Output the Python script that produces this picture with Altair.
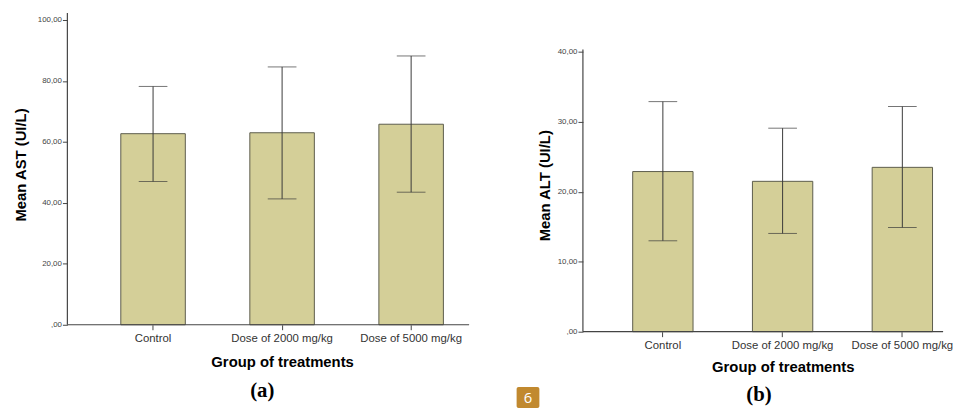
import altair as alt
import pandas as pd

groups = ["Control", "Dose of 2000 mg/kg", "Dose of 5000 mg/kg"]

ast_mean = [62.7, 63.0, 65.8]
ast_low = [47.0, 41.3, 43.5]
ast_high = [78.2, 84.6, 88.2]
ast_ticks = [0, 20, 40, 60, 80, 100]

alt_mean = [22.9, 21.5, 23.5]
alt_low = [13.0, 14.05, 14.9]
alt_high = [32.9, 29.1, 32.2]
alt_ticks = [0, 10, 20, 30, 40]

FONT = "Liberation Sans"
BAR = "#d4cf98"
LINE = "#444444"

LABEL_EXPR = "datum.value == 0 ? ',00' : replace(format(datum.value, '.2f'), '.', ',')"


def panel(mean, low, high, ticks, ytitle, ydom, width, height, xrange, pinner,
          ytitle_x, ytitle_y, xtitle_x, xtitle_y, yline_top, letter, letter_x, letter_y):
    df = pd.DataFrame({"group": groups, "mean": mean, "low": low, "high": high})
    one = pd.DataFrame({"k": [0]})
    x = alt.X("group:N", sort=groups,
              scale=alt.Scale(range=xrange, paddingInner=pinner, paddingOuter=0),
              axis=alt.Axis(title="Group of treatments", labelAngle=0, domain=False,
                            tickSize=5, tickColor=LINE, labelFont=FONT, labelFontSize=11.5,
                            labelColor="#333333", labelPadding=3,
                            titleFont=FONT, titleFontSize=15, titleFontWeight="bold",
                            titleColor="#000000", titleX=xtitle_x, titleY=xtitle_y,
                            titleBaseline="middle", titleAlign="center"))
    y = alt.Y("mean:Q",
              scale=alt.Scale(domain=[0, ydom], nice=False, zero=True),
              axis=alt.Axis(title=ytitle, values=ticks, labelExpr=LABEL_EXPR, domain=False,
                            grid=False, tickSize=5, tickColor=LINE, labelFont=FONT,
                            labelFontSize=8, labelColor="#444444", labelPadding=1,
                            titleFont=FONT, titleFontSize=15, titleFontWeight="bold",
                            titleColor="#000000", titleX=ytitle_x, titleY=ytitle_y,
                            titleAngle=-90, titleBaseline="middle", titleAlign="center"))
    base = alt.Chart(df)
    bars = base.mark_bar(color=BAR, stroke="#5c5c4c", strokeWidth=1).encode(x=x, y=y)
    err = base.mark_rule(color="#3a3a3a", strokeWidth=1).encode(
        x=alt.X("group:N", sort=groups), y=alt.Y("low:Q"), y2="high:Q")
    cap_lo = base.mark_tick(orient="horizontal", size=29, thickness=1, color="#3a3a3a").encode(
        x=alt.X("group:N", sort=groups), y=alt.Y("low:Q"))
    cap_hi = base.mark_tick(orient="horizontal", size=29, thickness=1, color="#3a3a3a").encode(
        x=alt.X("group:N", sort=groups), y=alt.Y("high:Q"))
    xline = alt.Chart(one).mark_rule(color=LINE, strokeWidth=1.2).encode(
        x=alt.value(0), x2=alt.value(width), y=alt.value(height))
    yline = alt.Chart(one).mark_rule(color=LINE, strokeWidth=1.2).encode(
        x=alt.value(0), y=alt.value(yline_top), y2=alt.value(height))
    lab = alt.Chart(one).mark_text(font="Liberation Serif", fontWeight="bold", fontSize=21,
                                   color="#000000", baseline="middle", align="center").encode(
        x=alt.value(letter_x), y=alt.value(letter_y), text=alt.value(letter))
    layers = [bars, err, cap_lo, cap_hi, xline, yline, lab]
    return alt.layer(*layers).properties(width=width, height=height)


a = panel(ast_mean, ast_low, ast_high, ast_ticks, "Mean AST (UI/L)", 102.27,
          406, 315, [54, 380], 0.5,
          -47.5, 153, 217, 37, 0, "(a)", 197, 382)

one = pd.DataFrame({"k": [0]})
b_core = panel(alt_mean, alt_low, alt_high, alt_ticks, "Mean ALT (UI/L)", 45.56,
               364, 322, [50.3, 353.3], 0.496,
               -39, 174, 202, 35.7, 36.7, "(b)", 178, 386)
box = alt.Chart(one).mark_rect(color="#c1892f", cornerRadius=2).encode(
    x=alt.value(-67), x2=alt.value(-44), y=alt.value(378), y2=alt.value(399))
six = alt.Chart(one).mark_text(font="Open Sans", fontSize=15, color="#ffffff",
                               baseline="middle", align="center").encode(
    x=alt.value(-55.5), y=alt.value(389), text=alt.value("6"))
b = alt.layer(b_core, box, six)

chart = alt.hconcat(a, b, spacing=115, bounds="flush").properties(
    padding={"left": 5, "top": 2, "right": 0, "bottom": 0}
).configure_view(stroke=None)

chart.save("out.html", embed_options={"renderer": "svg", "actions": False})
